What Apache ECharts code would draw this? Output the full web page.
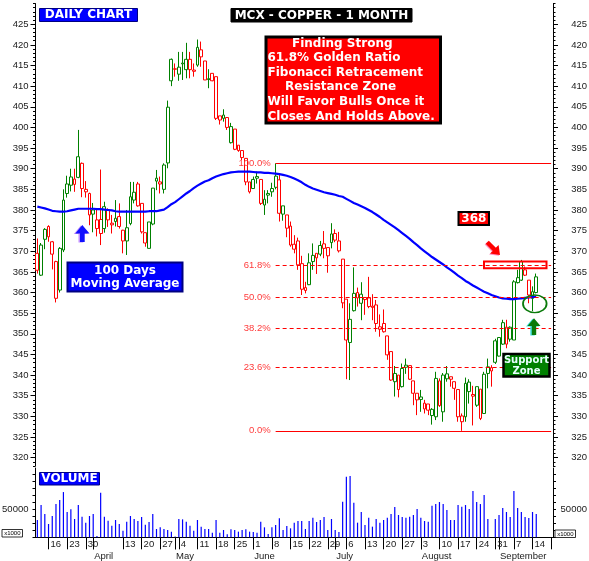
<!DOCTYPE html>
<html><head><meta charset="utf-8">
<script src="https://cdn.jsdelivr.net/npm/echarts@6/dist/echarts.min.js"></script>
<style>html,body{margin:0;padding:0;background:#fff}#c{width:589px;height:561px}</style>
</head><body><div id="c"></div>
<script>
// ---- data ----
const categories = [
'03-11','03-12','03-13','03-16','03-17','03-18','03-19','03-20','03-23','03-24','03-25','03-26','03-27','03-30','03-31',
'04-01','04-02','04-03','04-06','04-07','04-08','04-09','04-10','04-13','04-14','04-15','04-16','04-17','04-20','04-21','04-22','04-23','04-24','04-27','04-28','04-29','04-30',
'05-01','05-04','05-05','05-06','05-07','05-08','05-11','05-12','05-13','05-14','05-15','05-18','05-19','05-20','05-21','05-22','05-25','05-26','05-27','05-28','05-29',
'06-01','06-02','06-03','06-04','06-05','06-08','06-09','06-10','06-11','06-12','06-15','06-16','06-17','06-18','06-19','06-22','06-23','06-24','06-25','06-26','06-29','06-30',
'07-01','07-02','07-03','07-06','07-07','07-08','07-09','07-10','07-13','07-14','07-15','07-16','07-17','07-20','07-21','07-22','07-23','07-24','07-27','07-28','07-29','07-30','07-31',
'08-03','08-04','08-05','08-06','08-07','08-10','08-11','08-12','08-13','08-14','08-17','08-18','08-19','08-20','08-21','08-24','08-25','08-26','08-27','08-28','08-31',
'09-01','09-02','09-03','09-04','09-07','09-08','09-09','09-10','09-11','09-14','09-15','09-16','09-17','09-18','09-21'];

const opens = [369.5,364.2,372.9,376.0,372.3,367.5,360.6,370.3,384.0,386.0, 386.2,387.9,391.3,384.4,384.0,380.0,377.6,377.7,375.5,380.0,
376.8,378.0,378.4,375.1,372.5,376.7,382.4,386.3,381.6,374.5, 370.7,376.6,387.0,386.3,385.0,391.4,411.3,414.2,412.9,415.6,
414.0,416.5,413.6,415.1,418.8,416.1,411.8,413.1,412.3,402.8, 402.2,402.4,396.3,399.6,395.7,394.4,392.5,386.8,385.2,387.7,
387.4,381.2,383.6,384.4,385.5,387.3,379.0,378.8,376.1,371.7, 372.5,367.0,361.2,361.9,367.5,369.5,369.3,371.8,370.9,372.1,
374.3,372.5,368.1,358.4,347.9,355.6,360.0,357.4,358.8,358.7, 356.7,357.0,351.7,352.5,349.5,345.7,338.4,340.0,337.2,342.4,
342.3,338.6,335.6,334.1,333.2,333.0,330.2,329.9,338.6,331.1, 339.1,339.6,338.4,336.5,330.1,329.9,336.0,335.3,332.7,336.6,
330.7,340.4,341.0,348.3,344.6,347.5,351.6,348.7,348.5,362.4, 363.0,365.5,363.0,358.6,360.0];
const highs = [373.1,372.0,375.6,376.3,372.5,367.7,371.0,385.0,388.3,390.0, 390.0,399.4,391.5,387.0,384.2,381.7,380.3,389.8,382.0,380.4,
378.8,382.4,381.6,375.2,380.0,386.8,386.8,386.8,381.6,374.5, 377.1,385.3,389.7,388.1,391.3,406.5,416.7,415.5,418.3,418.3,
420.5,418.3,415.5,421.3,420.8,416.1,414.1,413.1,412.3,402.8, 404.4,402.4,401.1,399.6,395.7,394.4,392.5,386.8,388.1,389.3,
387.4,384.8,384.8,386.6,391.3,388.5,381.0,378.8,377.2,373.9, 373.3,368.9,362.6,369.5,371.9,369.5,372.5,374.9,370.9,376.8,
375.3,374.7,368.1,358.4,357.4,366.1,361.2,362.5,358.9,363.8, 359.6,358.2,354.7,355.9,349.5,345.7,342.2,340.0,342.8,344.0,
342.4,338.6,335.6,336.4,334.0,333.0,332.0,340.8,339.2,340.5, 342.2,339.6,338.4,336.5,330.7,339.4,339.0,337.4,337.2,336.6,
340.8,344.0,342.4,348.8,349.1,353.4,353.4,351.8,363.0,365.5, 367.9,366.3,363.0,361.5,364.6];
const lows = [364.6,364.0,370.5,372.3,365.6,357.6,360.0,369.8,383.0,384.5, 384.4,387.7,383.1,383.0,376.3,374.6,373.6,371.5,374.5,375.9,
374.3,376.0,375.5,369.5,369.1,376.3,381.6,380.8,374.3,371.1, 370.7,376.3,384.8,384.0,384.0,390.1,410.0,412.3,411.3,411.5,
411.9,411.9,412.3,414.7,414.7,411.5,409.5,411.2,401.8,400.7, 401.4,399.4,396.1,394.5,394.1,392.1,386.0,384.0,385.1,386.4,
381.2,378.8,381.6,383.2,385.0,377.2,377.4,373.4,371.1,369.5, 365.5,359.4,359.8,361.8,365.5,364.5,368.8,368.3,364.8,370.7,
372.2,369.7,356.2,339.0,338.8,355.4,356.6,353.3,354.6,356.2, 353.3,350.5,349.3,350.3,343.7,338.6,334.8,334.6,337.0,340.3,
338.8,332.7,330.3,331.1,330.7,330.3,328.0,329.1,332.3,328.7, 338.4,337.2,334.0,328.7,326.5,328.7,333.1,327.8,332.3,329.1,
330.7,336.8,337.2,342.7,344.5,347.3,346.5,348.1,348.5,362.2, 362.8,364.0,357.4,355.5,359.8];
const closes = [365.4,371.5,375.3,373.5,369.3,358.6,370.7,382.4,386.3,388.0, 387.5,392.9,385.2,385.0,378.8,379.0,375.5,374.3,380.8,377.6,
376.4,377.2,376.0,372.5,375.7,383.2,384.3,381.0,374.7,372.0, 377.1,385.3,387.7,386.8,390.9,404.9,416.5,414.1,414.6,415.4,
416.5,414.0,413.9,419.4,417.1,411.5,411.6,411.3,402.2,401.8, 403.0,400.0,400.2,394.7,394.4,392.7,386.8,384.4,387.4,388.1,
381.6,382.6,384.0,385.2,388.2,379.2,381.0,375.6,371.5,370.5, 366.7,360.8,360.5,367.2,369.0,368.4,371.4,370.7,368.9,374.2,
372.7,370.1,357.5,348.5,353.5,359.8,358.7,359.6,358.3,356.6, 356.4,352.5,351.1,350.5,344.9,338.8,340.4,336.5,341.6,341.9,
339.0,335.6,334.0,334.7,331.8,331.5,331.7,339.2,332.6,340.0, 340.3,339.0,336.8,329.9,328.7,338.0,338.3,334.9,337.2,329.5,
340.2,342.0,341.8,343.1,349.1,352.7,347.5,351.6,362.6,363.6, 367.5,364.2,359.4,360.2,363.8];
const volumes = [30950,57740,41670,23810,38100,59520,66670,80950,45240,50000,
32740,57740,36900,26190,38100,41670,2380,79760,36900,29760,
20830,30950,23810,11900,27980,38100,32740,29170,36310,22620,
27380,41670,14880,17860,14880,13100,10120,1500,32740,32140,
27980,20830,11900,30950,19050,14880,14880,8330,30950,8330,
13100,5360,14290,13100,10120,13100,14290,10120,9520,8330,
27980,17860,5950,17860,22020,33930,13100,20240,16070,26190,
29170,29170,14880,29170,35120,27380,30950,36310,13100,32740,
13100,9520,63690,108330,109520,61900,26190,45240,22020,35120,
19050,32740,26190,30950,35120,41670,54160,39880,36310,35120,
36900,39880,50590,35120,29170,27980,56550,59520,63100,59520,
48810,30950,30950,57740,54760,57740,50590,82740,63100,59520,
75600,32740,0,32740,39880,52380,45240,36310,82740,52380,
45240,36310,34520,45240,41670];
const ma100 = [380.8,380.6,380.4,380.1,379.8,379.7,379.6,379.6,379.7,379.9,
380.1,380.3,380.3,380.3,380.3,380.3,380.2,380.2,380.1,380.0,
379.9,379.7,379.6,379.6,379.6,379.6,379.6,379.6,379.6,379.6,
379.7,379.7,379.7,379.9,380.1,380.7,381.4,381.9,382.6,383.3,
384.0,384.6,385.3,385.9,386.4,386.9,387.2,387.7,388.1,388.4,
388.7,388.9,389.1,389.2,389.3,389.3,389.3,389.3,389.2,389.1,
389.1,389.0,389.0,388.9,388.8,388.7,388.5,388.3,388.0,387.6,
387.2,386.7,386.1,385.6,385.2,384.9,384.6,384.3,384.1,383.9,
383.7,383.4,383.2,382.7,382.2,381.7,381.3,380.9,380.5,380.0,
379.5,378.9,378.3,377.6,377.0,376.4,375.8,375.1,374.4,373.7,
373.0,372.2,371.5,370.7,370.0,369.3,368.6,368.0,367.4,366.8,
366.1,365.5,364.8,364.1,363.5,362.8,362.3,361.7,361.2,360.7,
360.2,359.8,359.4,359.1,358.8,358.6,358.5,358.4,358.4,358.5,
358.6,358.7,358.8,358.9,359.0];
const priceTicks = [320,325,330,335,340,345,350,355,360,365,370,375,380,385,390,395,400,405,410,415,420,425];
const volumeTicks = [50000];
const weekLabels = ['03-16','03-23','03-30','04-13','04-20','04-27','05-04','05-11','05-18','05-25','06-01','06-08','06-15','06-22','06-29','07-06','07-13','07-20','07-27','08-03','08-10','08-17','08-24','08-31','09-07','09-14'];
const weekTickOnly = ['09-21'];
const monthStarts = ['04-01','05-01','06-01','07-01','08-03','09-01'];
const monthNames = ['April','May','June','July','August','September'];
const fibPercents = [0,23.6,38.2,50,61.8,100];
const fibStartIndex = 64;

// ---- build ----
const GREEN = '#008000', RED = '#ff0000';
const candleData = opens.map((o,i)=>{
  const c = closes[i];
  const prev = i>0 ? closes[i-1] : o;
  const col = c >= prev ? GREEN : RED;
  return {value:[o,c,lows[i],highs[i]],
    itemStyle:{color:'#ffffff', borderColor:col, color0:col, borderColor0:col}};
});
const fibHigh = highs[fibStartIndex];
const fibLow = Math.min(...lows.slice(fibStartIndex));
const lastIdx = categories.length-1;
const fibLines = fibPercents.map(p=>{
  const lvl = fibLow + (fibHigh-fibLow)*p/100;
  const solid = (p===0||p===100);
  return [{coord:[fibStartIndex,lvl],
    lineStyle:{color:RED,width:1,type: solid?'solid':[4,3]},
    label:{show:true,position:'start',distance:5,formatter:p.toFixed(1)+'%',color:'#ff3b3b',fontSize:9.5,fontFamily:'Liberation Sans'}},
    {coord:[lastIdx,lvl]}];
});
const minorPrice=[]; for(let v=318; v<=430; v++) minorPrice.push(v);
const minorVol=[]; for(let v=0; v<=120000; v+=12500) minorVol.push(v);

const weekSet = new Set(weekLabels), monthSet = new Set(monthStarts);
const tickSet = new Set([...weekLabels,...weekTickOnly,...monthStarts]);
const monthNameOf = {}; monthStarts.forEach((d,i)=>monthNameOf[d]=monthNames[i]);

const axisFont = {fontFamily:'Liberation Sans', fontSize:9.5, color:'#1a1a1a'};
function priceAxis(pos, minor){
  return {type:'value', gridIndex:0, position:pos, min:318, max:430, scale:true,
    splitLine:{show:false},
    axisLine:{show:!minor, lineStyle:{color:'#000',width:1}},
    axisTick:{show:true, length: minor?2.5:5, customValues: minor?minorPrice:priceTicks, lineStyle:{color:'#000'}},
    axisLabel: minor?{show:false}:Object.assign({show:true, customValues:priceTicks,
       margin: pos==='left'?7:34, align: 'right'}, axisFont)};
}
function volAxis(pos){
  return {type:'value', gridIndex:1, position:pos, min:0, max:124000,
    splitLine:{show:false},
    axisLine:{show:true, lineStyle:{color:'#000',width:1}},
    axisTick:{show:true, length:3, customValues:minorVol, lineStyle:{color:'#000'}},
    axisLabel:Object.assign({show:true, customValues:volumeTicks, margin: pos==='left'?7:34, align:'right',
      formatter:v=>String(v)}, axisFont)};
}
const boldFont = 'bold 12px "DejaVu Sans"';
function box(x,y,w,h,fill,stroke,lw){return {type:'rect',shape:{x:x,y:y,width:w,height:h},style:{fill:fill,stroke:stroke,lineWidth:lw},silent:true,z:100};}
function txt(x,y,t,font,fill,align){return {type:'text',x:x,y:y,style:{text:t,font:font,fill:fill,textAlign:align||'center',textVerticalAlign:'middle'},silent:true,z:101};}
function poly(pts,fill){return {type:'polygon',shape:{points:pts},style:{fill:fill},silent:true,z:100};}
function shift(pts,dx,dy){return pts.map(p=>[p[0]+dx,p[1]+dy]);}

const blueArrow = [[82.3,225],[89.5,233.5],[84.7,233.5],[84.7,242],[80,242],[80,233.5],[75.3,233.5]];
const greenArrow = [[534,318.3],[540.5,326],[536.2,326],[536.2,335],[531.8,335],[531.8,326],[527.5,326]];
const redArrow = [[500,255],[498.6,245.1],[495.9,247.8],[488.8,240.7],[485.7,243.8],[492.8,250.9],[490.1,253.6]];

const graphics = [
  box(39.5,8.5,98,13,'#0000ff','#000080',1), txt(88.5,15.2,'DAILY CHART',boldFont,'#fff'),
  box(231,8.5,181,13.5,'#000000','#000000',1), txt(321.5,15.4,'MCX - COPPER - 1 MONTH',boldFont,'#fff'),
  box(266,37,174.5,86,'#ff0000','#000000',3),
  txt(292,43.5,'Finding Strong',boldFont,'#fff','left'),
  txt(267.5,58,'61.8% Golden Ratio',boldFont,'#fff','left'),
  txt(267.5,72.6,'Fibonacci Retracement',boldFont,'#fff','left'),
  txt(285,87.2,'Resistance Zone',boldFont,'#fff','left'),
  txt(267.5,101.8,'Will Favor Bulls Once it',boldFont,'#fff','left'),
  txt(267.5,116.4,'Closes And Holds Above.',boldFont,'#fff','left'),
  box(67.5,262.5,115,29,'#0000ff','#000080',2),
  txt(125,270.8,'100 Days',boldFont,'#fff'), txt(125,284.3,'Moving Average',boldFont,'#fff'),
  poly(shift(blueArrow,-1.5,0.5),'#c090ff'), poly(blueArrow,'#1010ff'),
  box(458.5,212,30.5,13,'#ff0000','#000000',2), txt(473.8,218.6,'368',boldFont,'#fff'),
  poly(shift(redArrow,-1,0.8),'#ff90c0'), poly(redArrow,'#ff0000'),
  {type:'rect',shape:{x:484,y:261.5,width:62.5,height:6.8},style:{fill:null,stroke:'#ff0000',lineWidth:2},silent:true,z:100},
  {type:'circle',x:534.8,y:303.8,scaleY:0.75,shape:{cx:0,cy:0,r:11.8},style:{fill:null,stroke:'#0a7a0a',lineWidth:1.8},silent:true,z:100},
  poly(shift(greenArrow,-1.5,0.5),'#40e0e0'), poly(greenArrow,'#0a7a0a'),
  box(503.5,354,46,22.5,'#008000','#000000',2.5),
  txt(526.5,360.3,'Support','bold 10px "DejaVu Sans"','#e8ffff'), txt(526.5,371.5,'Zone','bold 10px "DejaVu Sans"','#e8ffff'),
  box(39.5,472.5,60,12.5,'#0000ff','#000080',1), txt(69.5,479,'VOLUME',boldFont,'#fff'),
  box(2,529.5,20.5,7.5,'#fff','#000',0.8), txt(12.3,533.4,'x1000','6px "Liberation Sans"','#000'),
  box(555,530,20.5,7.5,'#fff','#000',0.8), txt(565.3,533.9,'x1000','6px "Liberation Sans"','#000')
];

const chart = echarts.init(document.getElementById('c'), null, {renderer:'canvas'});
chart.setOption({
  animation:false,
  backgroundColor:'#fff',
  grid:[
    {left:35.5, right:36, top:3.6, height:462.3, outerBoundsMode:'none', containLabel:false},
    {left:35.5, right:36, top:468, height:69.3, outerBoundsMode:'none', containLabel:false}
  ],
  xAxis:[
    {type:'category', gridIndex:0, data:categories, boundaryGap:true, show:false},
    {type:'category', gridIndex:1, data:categories, boundaryGap:true, position:'bottom',
      axisLine:{show:true, lineStyle:{color:'#000',width:1}},
      axisTick:{show:true, alignWithLabel:true, length:12, lineStyle:{color:'#000'},
        interval:(i,v)=>tickSet.has(v)},
      axisLabel:Object.assign({show:true, margin:2, align:'left', padding:[0,0,0,2],
        interval:(i,v)=>weekSet.has(v), formatter:v=>String(parseInt(v.slice(3),10))}, axisFont),
      splitLine:{show:false}},
    {type:'category', gridIndex:1, data:categories, boundaryGap:true, position:'bottom', offset:12,
      axisLine:{show:true, lineStyle:{color:'#000',width:1}},
      axisTick:{show:true, alignWithLabel:true, length:12, lineStyle:{color:'#000'},
        interval:(i,v)=>monthSet.has(v)},
      axisLabel:Object.assign({show:true, margin:2, align:'left', padding:[0,0,0,1],
        interval:(i,v)=>monthSet.has(v), formatter:v=>monthNameOf[v]||''}, axisFont),
      splitLine:{show:false}}
  ],
  yAxis:[ priceAxis('left',false), priceAxis('left',true), priceAxis('right',false), priceAxis('right',true), volAxis('left'), volAxis('right') ],
  series:[
    {type:'candlestick', xAxisIndex:0, yAxisIndex:0, data:candleData, barWidth:3.3,
      itemStyle:{borderWidth:1}, z:2,
      markLine:{silent:true, symbol:['none','none'], animation:false, data:fibLines}},
    {type:'line', xAxisIndex:0, yAxisIndex:0, data:ma100, symbol:'none', z:3,
      lineStyle:{color:'#0000ff', width:2.2}},
    {type:'bar', xAxisIndex:1, yAxisIndex:4, data:volumes, barWidth:1.2,
      itemStyle:{color:'#0000ff'}}
  ],
  graphic: graphics
});
</script></body></html>
